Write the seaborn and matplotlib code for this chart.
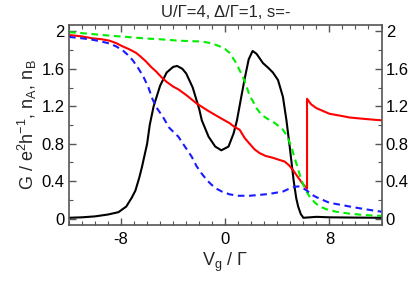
import matplotlib
matplotlib.use("Agg")
import matplotlib.pyplot as plt
import seaborn as sns
from matplotlib.ticker import MultipleLocator

# ---- data ----
g_x = [-12, -11, -10, -9, -8.2, -7.6, -7.2, -6.9, -6.6, -6.4, -6.0, -5.8, -5.5, -5.0,
       -4.5, -4.0, -3.7, -3.3, -3.0, -2.5, -2.0, -1.8, -1.28, -0.77, -0.3, 0.25, 0.64,
       0.9, 1.23, 1.5, 1.8, 2.1, 2.4, 2.9, 3.3, 3.66, 4.05, 4.43, 4.7, 4.95, 5.25,
       5.45, 5.6, 5.8, 6.0, 6.5, 7.0, 8.0, 10.0, 12.0]
g_y = [0.01, 0.015, 0.025, 0.045, 0.07, 0.13, 0.22, 0.30, 0.44, 0.55, 0.80, 1.0, 1.2, 1.42,
       1.56, 1.62, 1.63, 1.60, 1.55, 1.40, 1.17, 1.05, 0.875, 0.77, 0.73, 0.77, 0.91,
       1.05, 1.30, 1.50, 1.70, 1.79, 1.76, 1.66, 1.61, 1.56, 1.48, 1.30, 1.05, 0.77, 0.41,
       0.22, 0.13, 0.05, 0.01, 0.015, 0.02, 0.015, 0.012, 0.01]

na_x = [-12, -11, -10.2, -9.5, -8.9, -8.4, -7.9, -7.4, -6.85, -6.5, -6.1, -5.7, -5.3, -4.9,
        -4.5, -4.0, -3.6, -3.0, -2.2, -1.3, -0.44, 0.33, 0.7, 1.1, 1.5, 1.87, 2.25, 2.64,
        3.1, 3.66, 4.1, 4.56, 4.9, 5.2, 5.5, 5.85, 6.1, 6.28, 6.28, 6.6, 7.0, 7.5, 8.0,
        8.8, 9.56, 10.3, 11.1, 12]
na_y = [1.96, 1.945, 1.925, 1.915, 1.90, 1.875, 1.84, 1.81, 1.77, 1.73, 1.68, 1.62, 1.57, 1.51,
        1.46, 1.41, 1.38, 1.32, 1.23, 1.15, 1.08, 1.02, 0.98, 0.95, 0.86, 0.80, 0.74, 0.70,
        0.67, 0.65, 0.63, 0.61, 0.57, 0.52, 0.46, 0.39, 0.35, 0.32, 1.28, 1.22, 1.18, 1.15, 1.12,
        1.10, 1.08, 1.07, 1.06, 1.05]

nb_x = [-12, -11, -10.2, -9, -7.6, -6.3, -5.05, -3.6, -1.75, -1.0, -0.44, 0.0, 0.33, 0.8,
        1.33, 1.6, 1.87, 2.1, 2.4, 2.77, 3.2, 3.66, 4.0, 4.43, 4.75, 5.07, 5.46, 5.85,
        6.2, 6.5, 6.9, 7.25, 7.8, 8.5, 9.5, 10.6, 12]
nb_y = [1.99, 1.98, 1.97, 1.955, 1.94, 1.925, 1.915, 1.90, 1.89, 1.87, 1.84, 1.81, 1.77, 1.67,
        1.52, 1.43, 1.31, 1.26, 1.18, 1.11, 1.07, 1.035, 1.0, 0.95, 0.88, 0.77, 0.59, 0.41,
        0.30, 0.23, 0.17, 0.13, 0.10, 0.075, 0.055, 0.04, 0.03]

nc_x = [-12, -11, -10.2, -9.5, -8.9, -8.4, -7.9, -7.5, -7.1, -6.7, -6.3, -5.9, -5.57, -5.2,
        -4.8, -4.3, -3.6, -3.1, -2.57, -2.2, -1.8, -1.4, -1.03, -0.6, -0.26, 0.33, 1.0,
        1.87, 2.7, 3.4, 4.0, 4.43, 4.9, 5.33, 5.6, 5.85, 6.28, 6.6, 7.0, 7.5, 8.0, 8.8,
        9.56, 10.8, 12]
nc_y = [1.94, 1.925, 1.91, 1.89, 1.87, 1.84, 1.80, 1.75, 1.69, 1.61, 1.52, 1.40, 1.27, 1.17,
        1.09, 0.97, 0.875, 0.77, 0.66, 0.56, 0.48, 0.41, 0.36, 0.315, 0.29, 0.26, 0.245,
        0.245, 0.255, 0.265, 0.28, 0.29, 0.32, 0.34, 0.345, 0.335, 0.30, 0.26, 0.23, 0.20, 0.17, 0.15,
        0.13, 0.10, 0.075]

x_ticks = [-8, 0, 8]
y_ticks = [0, 0.4, 0.8, 1.2, 1.6, 2.0]
y_ticklabels = ["0", "0.4", "0.8", "1.2", "1.6", "2"]

sns.set_theme(style="ticks")
plt.rcParams["font.family"] = ["Liberation Sans", "DejaVu Sans"]
plt.rcParams["axes.unicode_minus"] = False
plt.rcParams["mathtext.fontset"] = "custom"
plt.rcParams["mathtext.rm"] = "Liberation Sans"
plt.rcParams["mathtext.it"] = "Liberation Sans"
plt.rcParams["mathtext.bf"] = "Liberation Sans:bold"

fig = plt.figure(figsize=(4.11, 2.84), dpi=100)
ax = fig.add_axes([69 / 411, 1 - 225 / 284, (381.5 - 69) / 411, 200 / 284])

lw = 1.5
sns.lineplot(x=g_x, y=g_y, ax=ax, color="black", lw=lw, estimator=None, sort=False)
sns.lineplot(x=na_x, y=na_y, ax=ax, color="#ff0000", lw=lw, estimator=None, sort=False)
sns.lineplot(x=nb_x, y=nb_y, ax=ax, color="#00ee00", lw=lw, estimator=None, sort=False)
sns.lineplot(x=nc_x, y=nc_y, ax=ax, color="#1a1aff", lw=lw, estimator=None, sort=False)
ax.lines[2].set_dashes((3.2, 2.2))
ax.lines[3].set_dashes((3.2, 2.2))

ax.set_xlim(-12, 12)
ax.set_ylim(-0.067, 2.067)
ax.set_xticks(x_ticks)
ax.set_xticklabels([str(v) for v in x_ticks])
ax.set_yticks(y_ticks)
ax.set_yticklabels(y_ticklabels)
ax.xaxis.set_minor_locator(MultipleLocator(1))
ax.yaxis.set_minor_locator(MultipleLocator(0.2))

spine_c = "#555555"
for s in ax.spines.values():
    s.set_color(spine_c)
    s.set_linewidth(1.2)
    s.set_visible(True)
ax.tick_params(which="both", direction="in", top=True, right=True, labelright=True,
               color=spine_c, labelsize=12, labelcolor="black")
ax.tick_params(which="major", length=5, width=1.0, pad=3)
ax.tick_params(which="minor", length=3, width=0.8)
ax.tick_params(axis="x", which="major", pad=5)

ax.set_xlabel(r"$\mathrm{V_g}$ / Γ", fontsize=13, labelpad=3)
ax.set_ylabel(r"G / e$^2$h$^{-1}$, n$_\mathrm{A}$, n$_\mathrm{B}$", fontsize=13, labelpad=2)
ax.set_title("U/Γ=4, Δ/Γ=1, s=-", fontsize=12, pad=6)

fig.savefig("out.png", dpi=100)
